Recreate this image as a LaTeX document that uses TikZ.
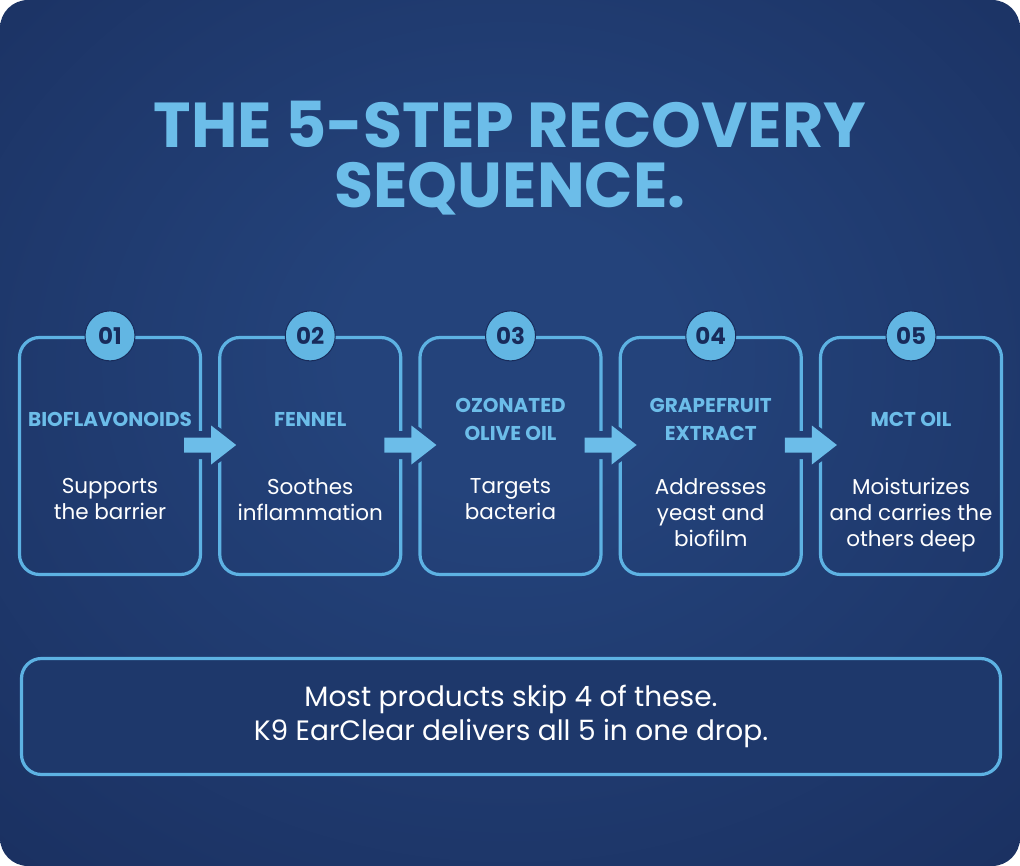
\documentclass[tikz,border=0pt]{standalone}
\usepackage{fontspec}
\setmainfont{Poppins}
\usepackage{tikz}
\usetikzlibrary{calc,positioning}
\definecolor{cBgIn}{HTML}{24437B}
\definecolor{cBgOut}{HTML}{172A58}
\definecolor{cLine}{HTML}{5DB2E3}
\definecolor{cHead}{HTML}{6CBDE9}
\definecolor{cNum}{HTML}{62B6E3}
\definecolor{cNavy}{HTML}{182B5B}
\definecolor{cNote}{HTML}{1E386B}
\pgfdeclareradialshading{bgglow}{\pgfpoint{0bp}{5bp}}{%
  color(0bp)=(cBgIn); color(8bp)=(cBgIn); color(48bp)=(cBgOut); color(80bp)=(cBgOut)}
\tikzset{
  titletxt/.style={font=\bfseries\fontsize{63.5}{60}\selectfont, text=cHead, align=center, inner sep=0pt},
  stepbox/.style={draw=cLine, line width=3.2pt, rounded corners=20pt,
                  minimum width=181pt, minimum height=237pt, inner sep=0pt},
  numdot/.style={circle, fill=cNum, draw=cNavy, line width=1pt, minimum size=50pt, inner sep=0pt,
                 font=\bfseries\fontsize{23}{23}\selectfont, text=cNavy},
  headtxt/.style={font=\bfseries\fontsize{20}{28}\selectfont, text=cHead, align=center, inner sep=0pt},
  desctxt/.style={font=\fontsize{21.5}{26}\selectfont, text=white, align=center, inner sep=0pt},
  flowarrow/.style={fill=cHead},
  notebox/.style={draw=cLine, line width=3.2pt, rounded corners=20pt, fill=cNote,
                  minimum width=979pt, minimum height=116pt, inner sep=0pt,
                  font=\fontsize{28}{34}\selectfont, text=white, align=center},
}

\begin{document}
\begin{tikzpicture}[x=1pt, y=-1pt]
  \useasboundingbox (0,0) rectangle (1020,866);
  \fill[white] (0,0) rectangle (1020,866);
  \shade[shading=bgglow, rounded corners=28pt] (0,0) rectangle (1020,866);

  \node[titletxt, anchor=north] (title) at (510,101) {THE 5-STEP RECOVERY\\SEQUENCE.};

  % the five step boxes
  \foreach \i in {1,...,5}
    \node[stepbox] (b\i) at ({110+200.25*(\i-1)},456) {};

  % arrows; the background is laid again under each one to cut the borders
  \foreach \i/\j in {1/2,2/3,3/4,4/5} {
    \coordinate (s\i) at ($(b\i.east)+(-18,-11)$);
    \coordinate (t\i) at ($(b\j.west)+(18,-11)$);
    \begin{scope}
      \clip ($(s\i)+(-6,-14)$) -- ($(t\i)+(-31,-14)$) -- ($(t\i)+(-31,-27)$) -- ($(t\i)+(9,0)$)
        -- ($(t\i)+(-31,27)$) -- ($(t\i)+(-31,14)$) -- ($(s\i)+(-6,14)$) -- cycle;
      \shade[shading=bgglow] (0,0) rectangle (1020,866);
    \end{scope}
    \fill[flowarrow] ($(s\i)+(0,-7.5)$) -- ($(t\i)+(-25,-7.5)$) -- ($(t\i)+(-25,-19.5)$)
      -- (t\i) -- ($(t\i)+(-25,19.5)$) -- ($(t\i)+(-25,7.5)$) -- ($(s\i)+(0,7.5)$) -- cycle;
  }

  \foreach \i/\num/\head/\desc in {
      1/01/BIOFLAVONOIDS/{Supports\\the barrier},
      2/02/FENNEL/{Soothes\\inflammation},
      3/03/{OZONATED\\OLIVE OIL}/{Targets\\bacteria},
      4/04/{GRAPEFRUIT\\EXTRACT}/{Addresses\\yeast and\\biofilm},
      5/05/{MCT OIL}/{Moisturizes\\and carries the\\others deep}} {
    \node[numdot] (n\i) at (b\i.north) {\num};
    \node[headtxt] (h\i) at ($(b\i.north)+(0,84)$) {\head};
    \node[desctxt, anchor=north] (d\i) at ($(b\i.north)+(0,142)$) {\desc};
  }

  \node[notebox] (note) at (511,716.5) {Most products skip 4 of these.\\K9 EarClear delivers all 5 in one drop.};
\end{tikzpicture}
\end{document}
